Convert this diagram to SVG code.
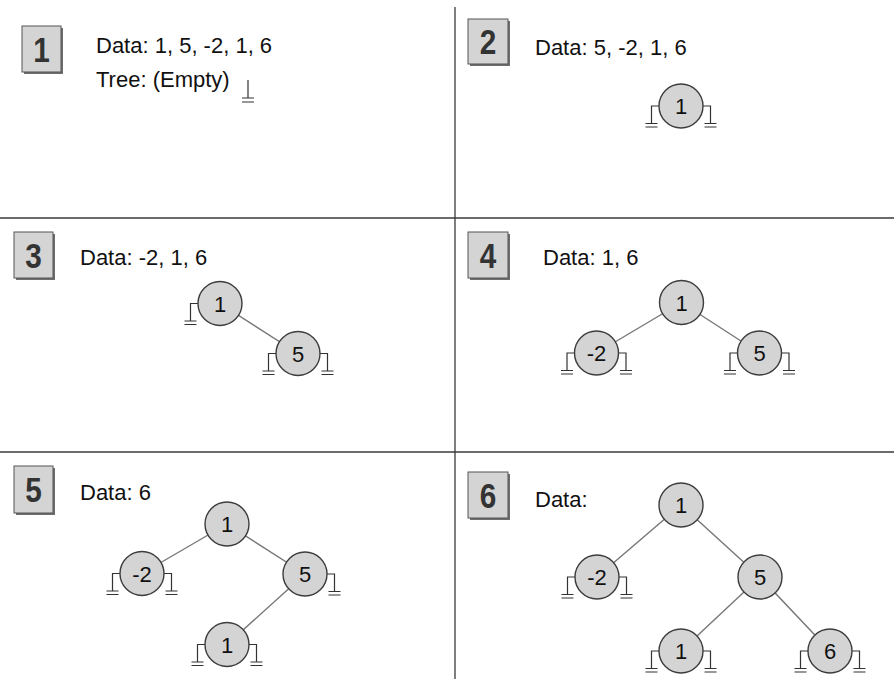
<svg xmlns="http://www.w3.org/2000/svg" xmlns:xlink="http://www.w3.org/1999/xlink" width="894" height="679" viewBox="0 0 894 679">
<style>
.bg{fill:#ffffff}
.div{stroke:#3a3a3a;stroke-width:1.3;fill:none}
.edge{stroke:#777777;stroke-width:1.4;fill:none}
.gnd{stroke:#333333;stroke-width:1.2;fill:none}
.node{fill:#d4d4d4;stroke:#3c3c3c;stroke-width:1.4}
.ntxt{font-family:"Liberation Sans",Arial,sans-serif;font-size:22px;fill:#111111;text-anchor:middle}
.txt{font-family:"Liberation Sans",Arial,sans-serif;font-size:22px;fill:#111111}
.lbox{fill:#d4d4d4;stroke:#555555;stroke-width:1}
.lsh{fill:#6e6e6e}
.ltxt{font-family:"Liberation Sans",Arial,sans-serif;font-size:35px;font-weight:bold;fill:#333333;text-anchor:middle}
</style>
<defs>
<path id="gl" d="M-22,0 H-29.5 V17.5 M-35.5,17.5 H-23.5 M-35.5,21 H-23.5"/>
<path id="gr" d="M22,0 H29.5 V17.5 M23.5,17.5 H35.5 M23.5,21 H35.5"/>
</defs>
<rect class="bg" x="0" y="0" width="894" height="679"/>
<g id="dividers">
<line class="div" x1="455" y1="7" x2="455" y2="679"/>
<line class="div" x1="0" y1="218" x2="894" y2="218"/>
<line class="div" x1="0" y1="452" x2="894" y2="452"/>
</g>
<g id="labels">
<g id="label1"><rect class="lsh" x="24" y="28" width="39" height="46"/><rect class="lbox" x="22" y="26" width="39" height="46"/><text class="ltxt" x="41.5" y="62" transform="translate(41.5 0) scale(0.85 1) translate(-41.5 0)">1</text></g>
<g id="label2"><rect class="lsh" x="470" y="21" width="40" height="45"/><rect class="lbox" x="468" y="19" width="40" height="45"/><text class="ltxt" x="488" y="54" transform="translate(488 0) scale(0.85 1) translate(-488 0)">2</text></g>
<g id="label3"><rect class="lsh" x="16" y="234" width="39" height="46"/><rect class="lbox" x="14" y="232" width="39" height="46"/><text class="ltxt" x="33.5" y="268" transform="translate(33.5 0) scale(0.85 1) translate(-33.5 0)">3</text></g>
<g id="label4"><rect class="lsh" x="470" y="234" width="40" height="46"/><rect class="lbox" x="468" y="232" width="40" height="46"/><text class="ltxt" x="488" y="268" transform="translate(488 0) scale(0.85 1) translate(-488 0)">4</text></g>
<g id="label5"><rect class="lsh" x="16" y="468" width="39" height="47"/><rect class="lbox" x="14" y="466" width="39" height="47"/><text class="ltxt" x="33.5" y="502" transform="translate(33.5 0) scale(0.85 1) translate(-33.5 0)">5</text></g>
<g id="label6"><rect class="lsh" x="470" y="474" width="40" height="46"/><rect class="lbox" x="468" y="472" width="40" height="46"/><text class="ltxt" x="488" y="508" transform="translate(488 0) scale(0.85 1) translate(-488 0)">6</text></g>
</g>
<g id="texts">
<text class="txt" x="96" y="53">Data: 1, 5, -2, 1, 6</text>
<text class="txt" x="96" y="87">Tree: (Empty)</text>
<text class="txt" x="535" y="55">Data: 5, -2, 1, 6</text>
<text class="txt" x="80" y="265">Data: -2, 1, 6</text>
<text class="txt" x="543" y="265">Data: 1, 6</text>
<text class="txt" x="80" y="500">Data: 6</text>
<text class="txt" x="535" y="507">Data:</text>
</g>
<g id="connectors">
<line class="edge" x1="220" y1="303.5" x2="298" y2="353.5"/>
<line class="edge" x1="681.5" y1="302.5" x2="596.5" y2="353"/>
<line class="edge" x1="681.5" y1="302.5" x2="759.5" y2="353"/>
<line class="edge" x1="227" y1="524" x2="142" y2="573.5"/>
<line class="edge" x1="227" y1="524" x2="305" y2="574"/>
<line class="edge" x1="305" y1="574" x2="227" y2="644.5"/>
<line class="edge" x1="681" y1="505" x2="597" y2="577"/>
<line class="edge" x1="681" y1="505" x2="760" y2="577"/>
<line class="edge" x1="760" y1="577" x2="681" y2="651"/>
<line class="edge" x1="760" y1="577" x2="830" y2="651"/>
</g>
<g id="grounds" class="gnd">
<path d="M248,80 V98 M242,98 H254 M242,102 H254"/>
<use xlink:href="#gl" href="#gl" x="681" y="106"/><use xlink:href="#gr" href="#gr" x="681" y="106"/>
<use xlink:href="#gl" href="#gl" x="220" y="303.5"/>
<use xlink:href="#gl" href="#gl" x="298" y="353.5"/><use xlink:href="#gr" href="#gr" x="298" y="353.5"/>
<use xlink:href="#gl" href="#gl" x="596.5" y="353"/><use xlink:href="#gr" href="#gr" x="596.5" y="353"/>
<use xlink:href="#gl" href="#gl" x="759.5" y="353"/><use xlink:href="#gr" href="#gr" x="759.5" y="353"/>
<use xlink:href="#gl" href="#gl" x="142" y="573.5"/><use xlink:href="#gr" href="#gr" x="142" y="573.5"/>
<use xlink:href="#gr" href="#gr" x="305" y="574"/>
<use xlink:href="#gl" href="#gl" x="227" y="644.5"/><use xlink:href="#gr" href="#gr" x="227" y="644.5"/>
<use xlink:href="#gl" href="#gl" x="597" y="577"/><use xlink:href="#gr" href="#gr" x="597" y="577"/>
<use xlink:href="#gl" href="#gl" x="681" y="651"/><use xlink:href="#gr" href="#gr" x="681" y="651"/>
<use xlink:href="#gl" href="#gl" x="830" y="651"/><use xlink:href="#gr" href="#gr" x="830" y="651"/>
</g>
<g id="nodes">
<g id="p2n1"><circle class="node" cx="681" cy="106" r="22"/><text class="ntxt" x="681" y="114">1</text></g>
<g id="p3n1"><circle class="node" cx="220" cy="303.5" r="22"/><text class="ntxt" x="220" y="311.5">1</text></g>
<g id="p3n5"><circle class="node" cx="298" cy="353.5" r="22"/><text class="ntxt" x="298" y="361.5">5</text></g>
<g id="p4n1"><circle class="node" cx="681.5" cy="302.5" r="22"/><text class="ntxt" x="681.5" y="310.5">1</text></g>
<g id="p4nm2"><circle class="node" cx="596.5" cy="353" r="22"/><text class="ntxt" x="596.5" y="361">-2</text></g>
<g id="p4n5"><circle class="node" cx="759.5" cy="353" r="22"/><text class="ntxt" x="759.5" y="361">5</text></g>
<g id="p5n1"><circle class="node" cx="227" cy="524" r="22"/><text class="ntxt" x="227" y="532">1</text></g>
<g id="p5nm2"><circle class="node" cx="142" cy="573.5" r="22"/><text class="ntxt" x="142" y="581.5">-2</text></g>
<g id="p5n5"><circle class="node" cx="305" cy="574" r="22"/><text class="ntxt" x="305" y="582">5</text></g>
<g id="p5n1b"><circle class="node" cx="227" cy="644.5" r="22"/><text class="ntxt" x="227" y="652.5">1</text></g>
<g id="p6n1"><circle class="node" cx="681" cy="505" r="22"/><text class="ntxt" x="681" y="513">1</text></g>
<g id="p6nm2"><circle class="node" cx="597" cy="577" r="22"/><text class="ntxt" x="597" y="585">-2</text></g>
<g id="p6n5"><circle class="node" cx="760" cy="577" r="22"/><text class="ntxt" x="760" y="585">5</text></g>
<g id="p6n1b"><circle class="node" cx="681" cy="651" r="22"/><text class="ntxt" x="681" y="659">1</text></g>
<g id="p6n6"><circle class="node" cx="830" cy="651" r="22"/><text class="ntxt" x="830" y="659">6</text></g>
</g>
</svg>
